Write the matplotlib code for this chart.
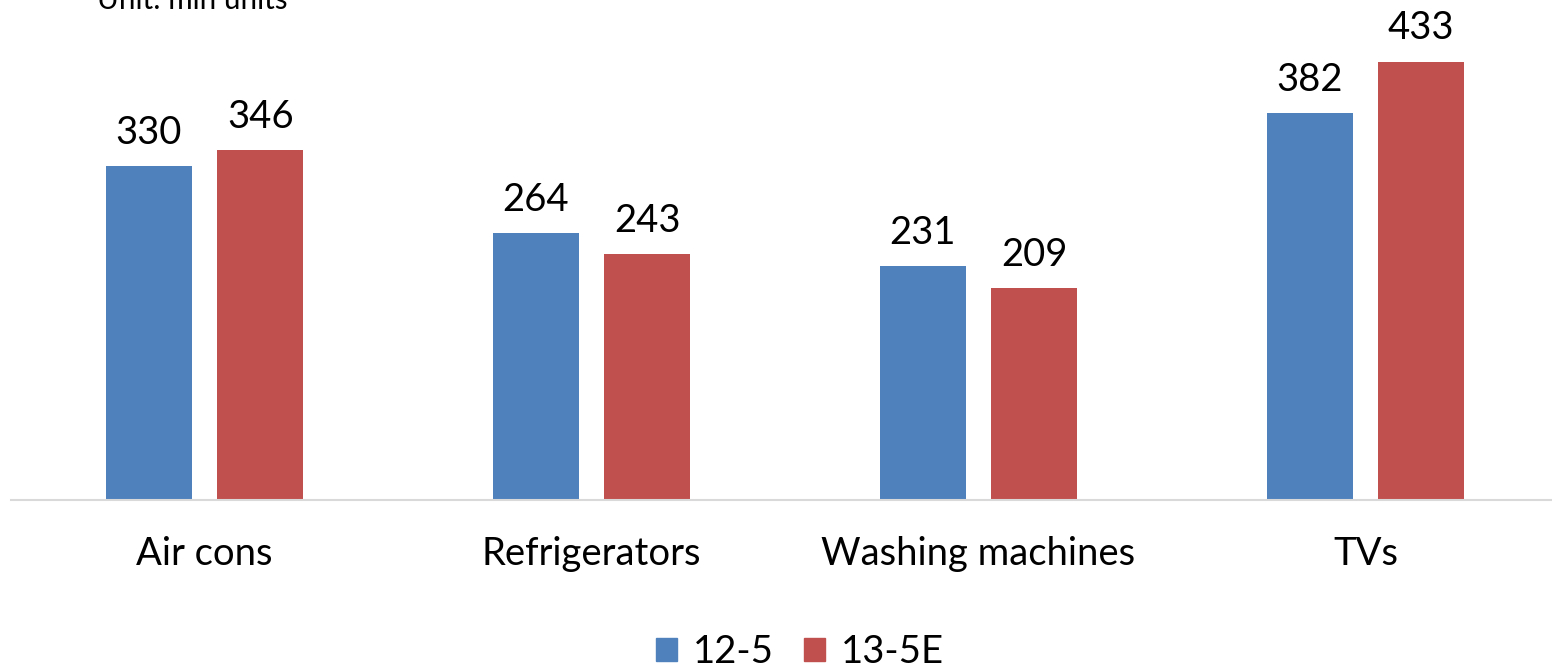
import matplotlib

matplotlib.use("Agg")
import matplotlib.pyplot as plt  # noqa: E402
import numpy as np  # noqa: E402
from matplotlib.patches import Patch  # noqa: E402

categories = ["Air cons", "Refrigerators", "Washing machines", "TVs"]
series_names = ["12-5", "13-5E"]
values_125 = [330, 264, 231, 382]
values_135e = [346, 243, 209, 433]

BLUE = "#4F81BD"
RED = "#C0504D"
FONT = "Lato"
FS = 27.5

fig = plt.figure(figsize=(15.52, 6.70), dpi=100)
ax = fig.add_axes((11 / 1552, 170 / 670, 1548 / 1552, 500 / 670))

x = np.arange(len(categories))
w = 0.222
off = 0.144
b1 = ax.bar(x - off, values_125, w, color=BLUE)
b2 = ax.bar(x + off, values_135e, w, color=RED)
for bars in (b1, b2):
    for rect in bars:
        ax.annotate(f"{rect.get_height():.0f}",
                    (rect.get_x() + rect.get_width() / 2, rect.get_height()),
                    xytext=(0, 11), textcoords="offset points",
                    ha="center", va="bottom", fontsize=FS, family=FONT)

ax.set_xlim(-0.5, 3.5)
ax.set_ylim(0, 494)
ax.set_yticks([])
ax.set_xticks(x)
ax.set_xticklabels(categories, fontsize=FS, family=FONT)
ax.tick_params(axis="x", length=0, pad=26)
for s in ("top", "right", "left"):
    ax.spines[s].set_visible(False)
ax.spines["bottom"].set_color("#d9d9d9")
ax.spines["bottom"].set_linewidth(1.5)

fig.text(97 / 1552, 1.0, "Unit: mln units", fontsize=21.3, family=FONT,
         ha="left", va="center")

handles = [Patch(color=BLUE), Patch(color=RED)]
fig.legend(handles, series_names, loc="center", bbox_to_anchor=(800 / 1552, 18 / 670),
           ncol=2, frameon=False, prop={"family": FONT, "size": FS},
           handlelength=0.55, handleheight=0.55, handletextpad=0.4,
           columnspacing=0.8)

fig.savefig("out.png", dpi=100)
